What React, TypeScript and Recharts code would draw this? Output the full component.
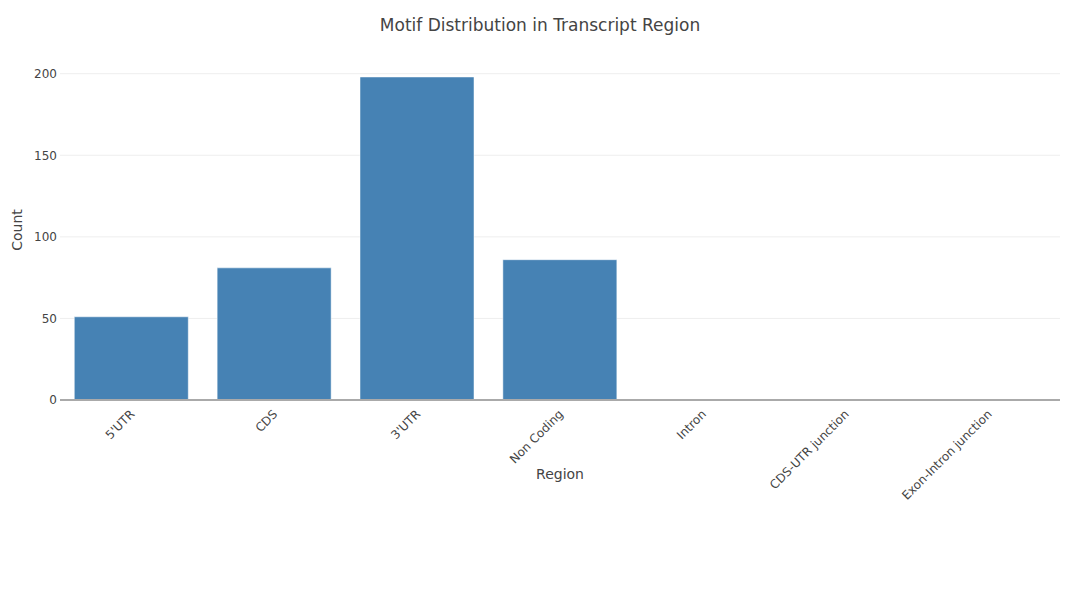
import { Bar, BarChart, CartesianGrid, XAxis, YAxis } from "recharts";

const regions = [
  "5'UTR",
  "CDS",
  "3'UTR",
  "Non Coding",
  "Intron",
  "CDS-UTR junction",
  "Exon-Intron junction",
];
const counts = [51, 81, 198, 86, 0, 0, 0];
const yTicks = [0, 50, 100, 150, 200];

const FONT = "'DejaVu Sans', Verdana, sans-serif";
const TEXT = "#444";

const data = regions.map((region, i) => ({ region, count: counts[i] }));

function RotatedTick({ x, y, payload }: any) {
  return (
    <text
      x={0}
      y={0}
      transform={`translate(${x + 1}, ${y + 4}) rotate(-45)`}
      textAnchor="end"
      dy="0.35em"
      fill={TEXT}
      fontSize={12}
      fontFamily={FONT}
    >
      {payload.value}
    </text>
  );
}

function CountLabel() {
  return (
    <text
      x={0}
      y={0}
      transform="translate(22, 230) rotate(-90)"
      textAnchor="middle"
      fill={TEXT}
      fontSize={14}
      fontFamily={FONT}
    >
      Count
    </text>
  );
}

function RegionLabel() {
  return (
    <text x={560} y={479} textAnchor="middle" fill={TEXT} fontSize={14} fontFamily={FONT}>
      Region
    </text>
  );
}

export default function App() {
  return (
    <div style={{ position: "absolute", left: 0, top: 0, width: 1080, height: 600, background: "#fff" }}>
      <div
        style={{
          position: "absolute",
          left: 0,
          top: 15,
          width: 1080,
          textAlign: "center",
          fontFamily: FONT,
          fontSize: 17,
          color: TEXT,
        }}
      >
        Motif Distribution in Transcript Region
      </div>
      <BarChart
        width={1080}
        height={600}
        data={data}
        margin={{ top: 60, right: 20, left: 0, bottom: 0 }}
        barCategoryGap="10%"
      >
        <CartesianGrid stroke="#eee" vertical={false} syncWithTicks />
        <XAxis
          dataKey="region"
          height={200}
          interval={0}
          tick={<RotatedTick />}
          tickLine={false}
          axisLine={{ stroke: "#aaa", strokeWidth: 2 }}
          label={<RegionLabel />}
        />
        <YAxis
          width={60}
          domain={[0, 208.4]}
          ticks={yTicks}
          axisLine={false}
          tickLine={false}
          tickSize={0}
          tickMargin={3}
          tick={{ fill: TEXT, fontSize: 12, fontFamily: FONT }}
          label={<CountLabel />}
        />
        <Bar
          dataKey="count"
          fill="#4682B4"
          stroke="#fff"
          strokeWidth={0.5}
          isAnimationActive={false}
        />
      </BarChart>
    </div>
  );
}
